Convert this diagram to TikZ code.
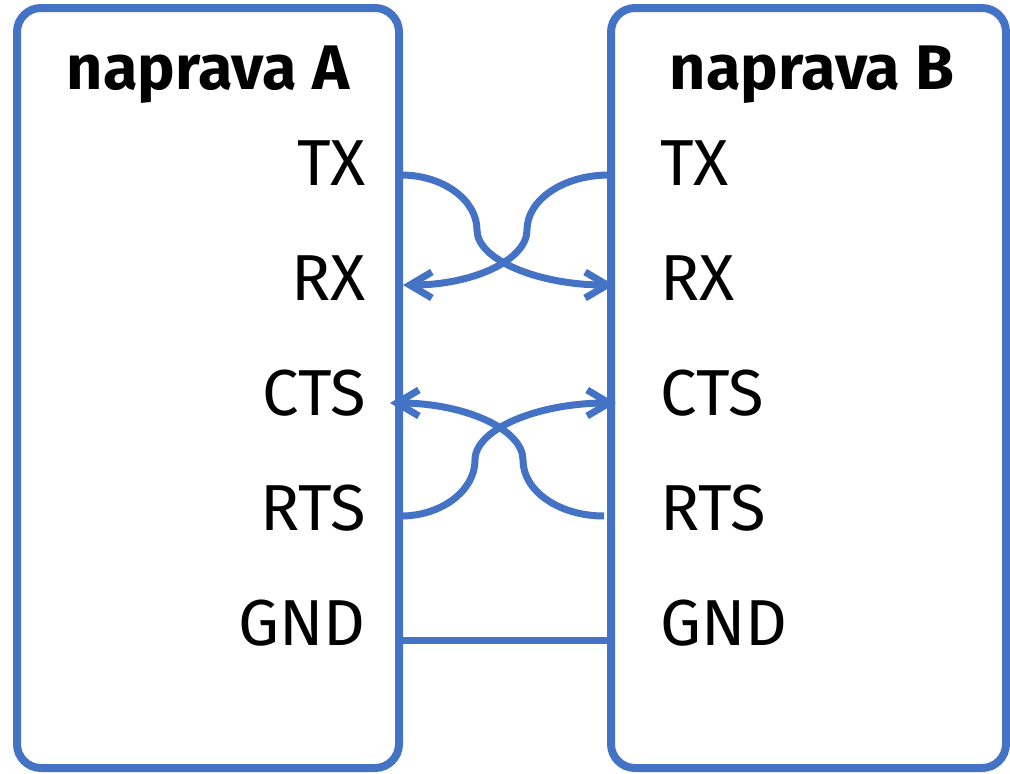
\documentclass[tikz,border=0pt]{standalone}
\usepackage{fontspec}
\setmainfont{Fira Sans}
\usetikzlibrary{arrows.meta}
\definecolor{wire}{HTML}{4472C4}
\begin{document}
\begin{tikzpicture}[x=1pt,y=-1pt,
  devbox/.style={draw=wire, line width=8pt, rounded corners=24pt, outer sep=0pt,
    inner sep=0pt, anchor=north west},
  title/.style={font=\fontsize{63}{68}\selectfont\bfseries, inner sep=0pt, anchor=base},
  pinlbl/.style={font=\fontsize{65}{70}\selectfont, inner sep=0pt},
  conn/.style={draw=wire, line width=7pt},
  tip/.style={-{Straight Barb[length=22pt,width=26pt]}}]
\useasboundingbox (0,0) rectangle (1010,774);
\node[devbox, minimum width=382pt, minimum height=760pt] (A) at (17,8) {};
\node[devbox, minimum width=395pt, minimum height=760pt] (B) at (611,8) {};
\node[title] (tA) at (208,89) {naprava A};
\node[title] (tB) at (812,89) {naprava B};
% left pin labels
\node[pinlbl, anchor=base east] (lA1) at (366,185) {TX};
\node[pinlbl, anchor=base east] (lA2) at (366,300) {RX};
\node[pinlbl, anchor=base east] (lA3) at (366,415) {CTS};
\node[pinlbl, anchor=base east] (lA4) at (366,530) {RTS};
\node[pinlbl, anchor=base east] (lA5) at (366,645) {GND};
% right pin labels
\node[pinlbl, anchor=base west] (lB1) at (660,185) {TX};
\node[pinlbl, anchor=base west] (lB2) at (660,300) {RX};
\node[pinlbl, anchor=base west] (lB3) at (660,415) {CTS};
\node[pinlbl, anchor=base west] (lB4) at (660,530) {RTS};
\node[pinlbl, anchor=base west] (lB5) at (660,645) {GND};
% pins
\coordinate (aTX) at (401,175);
\coordinate (aRX) at (403,285);
\coordinate (aCTS) at (390,403);
\coordinate (aRTS) at (401,516);
\coordinate (aGND) at (401,640);
\coordinate (bTX) at (609,175);
\coordinate (bRX) at (614,285);
\coordinate (bCTS) at (616,403);
\coordinate (bRTS) at (604,516);
\coordinate (bGND) at (609,640);
% crossing mid points
\coordinate (m1) at (477,230);
\coordinate (m2) at (527,230);
\coordinate (m3) at (475,460);
\coordinate (m4) at (523,460);
% connectors
\draw[conn, tip] (aTX) .. controls +(42,0) and +(0,-30) .. (m1)
   .. controls +(0,30) and +(-75,0) .. (bRX);
\draw[conn, tip] (bTX) .. controls +(-46,0) and +(0,-30) .. (m2)
   .. controls +(0,30) and +(70,0) .. (aRX);
\draw[conn, tip] (aRTS) .. controls +(40,0) and +(0,31) .. (m3)
   .. controls +(0,-31) and +(-78,0) .. (bCTS);
\draw[conn, tip] (bRTS) .. controls +(-45,0) and +(0,31) .. (m4)
   .. controls +(0,-31) and +(74,0) .. (aCTS);
\draw[conn] (aGND) -- (bGND);
\end{tikzpicture}
\end{document}
